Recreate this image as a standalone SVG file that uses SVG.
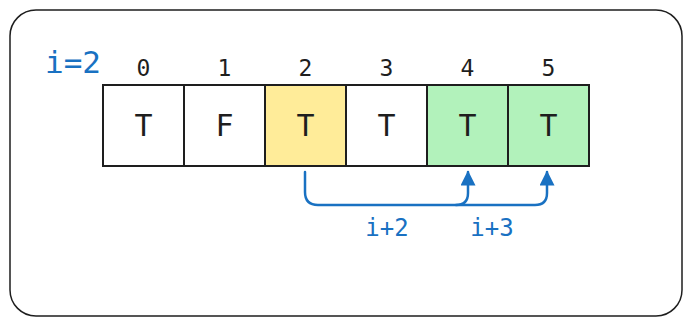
<svg xmlns="http://www.w3.org/2000/svg" width="692" height="326" viewBox="0 0 692 326">
<defs>
<style>
.cell{stroke:#1e1e1e;stroke-width:2}
.t{font-family:"DejaVu Sans Mono","Liberation Mono",monospace;fill:#1e1e1e;text-anchor:middle}
.v{font-size:30px}
.idx{font-size:23px}
.blue{font-family:"DejaVu Sans Mono","Liberation Mono",monospace;fill:#1971c2;text-anchor:middle}
.arr{fill:none;stroke:#1971c2;stroke-width:2.5;stroke-linecap:round;stroke-linejoin:round}
</style>
<marker id="ah" viewBox="0 0 10 10" refX="9" refY="5" markerWidth="6" markerHeight="6" orient="auto" markerUnits="strokeWidth">
<path d="M0,0 L10,5 L0,10 z" fill="#1971c2"/>
</marker>
</defs>
<rect x="0" y="0" width="692" height="326" fill="#ffffff"/>
<g id="frame">
<rect x="10" y="10" width="672" height="306" rx="26" ry="26" fill="none" stroke="#1e1e1e" stroke-width="1.5"/>
</g>
<g id="label-i">
<text class="blue" x="73" y="73" font-size="31">i=2</text>
</g>
<g id="indices">
<text class="t idx" x="143.5" y="76">0</text>
<text class="t idx" x="224.5" y="76">1</text>
<text class="t idx" x="305.5" y="76">2</text>
<text class="t idx" x="386.5" y="76">3</text>
<text class="t idx" x="467.5" y="76">4</text>
<text class="t idx" x="548.5" y="76">5</text>
</g>
<g id="cell0"><rect class="cell" x="103" y="85" width="81" height="81" fill="#ffffff"/><text class="t v" x="143.5" y="136">T</text></g>
<g id="cell1"><rect class="cell" x="184" y="85" width="81" height="81" fill="#ffffff"/><text class="t v" x="224.5" y="136">F</text></g>
<g id="cell2"><rect class="cell" x="265" y="85" width="81" height="81" fill="#ffec99"/><text class="t v" x="305.5" y="136">T</text></g>
<g id="cell3"><rect class="cell" x="346" y="85" width="81" height="81" fill="#ffffff"/><text class="t v" x="386.5" y="136">T</text></g>
<g id="cell4"><rect class="cell" x="427" y="85" width="81" height="81" fill="#b2f2bb"/><text class="t v" x="467.5" y="136">T</text></g>
<g id="cell5"><rect class="cell" x="508" y="85" width="81" height="81" fill="#b2f2bb"/><text class="t v" x="548.5" y="136">T</text></g>
<g id="connectors">
<path class="arr" d="M305 172 L305 192 Q305 205 318 205 L456 205 Q468 205 468 193 L468 172" marker-end="url(#ah)"/>
<path class="arr" d="M456 205 L535 205 Q547 205 547 193 L547 172" marker-end="url(#ah)"/>
</g>
<g id="labels">
<text class="blue" x="387" y="236" font-size="24">i+2</text>
<text class="blue" x="492" y="236" font-size="24">i+3</text>
</g>
</svg>
